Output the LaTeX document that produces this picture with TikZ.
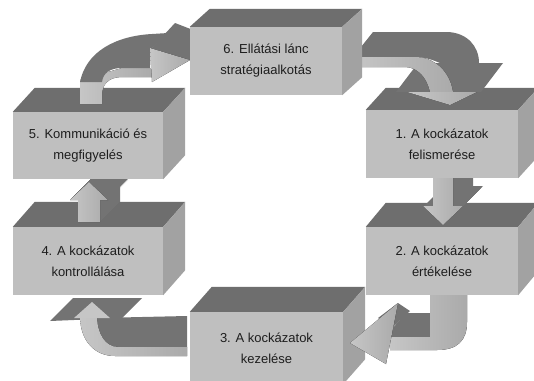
\documentclass[tikz,border=0pt]{standalone}
\usepackage{fontspec}
\setmainfont{Liberation Sans}
\definecolor{bfront}{HTML}{BFBFBF}
\definecolor{btop}{HTML}{6E6E6E}
\definecolor{bside}{HTML}{A2A2A2}
\definecolor{alightc}{HTML}{C6C6C6}
\definecolor{alightd}{HTML}{AAAAAA}
\definecolor{adarkc}{HTML}{737373}
\definecolor{txtc}{HTML}{1E1E1E}
\tikzset{
  stepbox/.style={fill=bfront, inner sep=0pt, align=center, text=txtc,
    font=\fontsize{13}{21}\selectfont},
  arrdark/.style={fill=adarkc},
  arrlight/.style={fill=alightc},
  arrshade/.style={left color=alightc, right color=alightd},
  arrshadev/.style={top color=alightc, bottom color=alightd},
}
\newcommand\drawcube[3]{%
  \fill[btop] (#1.north west) -- (#1.north east) -- ++(#2,#3) -- ([shift={(#2,#3)}]#1.north west) -- cycle;
  \fill[bside] (#1.north east) -- ++(#2,#3) -- ([shift={(#2,#3)}]#1.south east) -- (#1.south east) -- cycle;
}
\begin{document}
\begin{tikzpicture}[x=1pt,y=-1pt]
\useasboundingbox (0,0) rectangle (534,380);
\clip (0,0) rectangle (534,380);
\fill[white] (0,0) rectangle (534,380);

% arrow 3 -> 4
\fill[arrdark] (50,321) -- (73,298) -- (142,298) -- (122,318) -- cycle;
\fill[arrdark] (187,316) -- (187,347) -- (118,347) .. controls (105,347) and (97,333) .. (97,318) -- cycle;
\fill[arrshade] (187,347) -- (187,356) -- (115,356) .. controls (94,356) and (80,340) .. (80,316) -- (97,316) .. controls (97,333) and (105,347) .. (118,347) -- cycle;
\fill[arrlight] (74,318) -- (110,318) -- (92,302) -- cycle;

% box 4
\node[stepbox, minimum width=150pt, minimum height=68pt] (b4) at (88,261) {4. A kockázatok\\kontrollálása};
\drawcube{b4}{22}{-25}

% arrow 4 -> 5
\foreach \s in {20,19,...,1}
  \fill[arrdark, shift={(\s,-\s)}] (78,222) -- (100,222) -- (100,200) -- (108,200) -- (89,182) -- (70,200) -- (78,200) -- cycle;
\fill[arrshade] (78,222) -- (100,222) -- (100,200) -- (108,200) -- (89,182) -- (70,200) -- (78,200) -- cycle;

% box 5
\node[stepbox, minimum width=150pt, minimum height=67pt] (b5) at (88,145.5) {5. Kommunikáció és\\megfigyelés};
\drawcube{b5}{22}{-24}

% arrow 5 -> 6
\fill[arrshade] (80,104) -- (80,80) -- (122,68) -- (152,68) -- (152,77) -- (122,77) .. controls (108,77) and (102,85) .. (102,95) -- (102,104) -- cycle;
\fill[arrdark] (80,82) .. controls (86,52) and (115,36) .. (152,34) -- (168,33) -- (150,50) -- (150,68) -- (122,68) .. controls (110,68) and (103,73) .. (102,82) -- cycle;
\fill[arrdark] (150,50) -- (175,23) -- (193,30) -- (190,60) -- cycle;
\fill[arrshade] (150,48) -- (190,60) -- (152,82) -- cycle;

% box 3
\node[stepbox, minimum width=153pt, minimum height=72pt] (b3) at (266.5,348) {3. A kockázatok\\kezelése};
\drawcube{b3}{22}{-25}

% arrow 2 -> 3
\fill[arrdark] (383,338) -- (407,313) -- (432,313) -- (432,338) -- cycle;
\fill[arrshade] (430,292) -- (467,292) -- (467,322) .. controls (467,341) and (457,350) .. (437,350) -- (390,350) -- (390,337) -- (430,337) -- cycle;
\fill[arrdark] (378,318) -- (398,303) -- (410,311) -- (392,328) -- cycle;
\fill[arrshade] (398,303) -- (386,364) -- (350,343) -- cycle;

% box 2
\node[stepbox, minimum width=152pt, minimum height=68pt] (b2) at (442,261) {2. A kockázatok\\értékelése};
\drawcube{b2}{20}{-24}

% arrow 1 -> 2
\foreach \s in {20,19,...,1}
  \fill[arrdark, shift={(\s,-\s)}] (433,172) -- (453,172) -- (453,206) -- (463,206) -- (443,225) -- (423,206) -- (433,206) -- cycle;
\fill[arrshade] (433,172) -- (453,172) -- (453,206) -- (463,206) -- (443,225) -- (423,206) -- (433,206) -- cycle;

% box 1
\node[stepbox, minimum width=152pt, minimum height=68pt] (b1) at (442,144) {1. A kockázatok\\felismerése};
\drawcube{b1}{20}{-22}

% arrow 6 -> 1
\fill[arrdark] (353,57) -- (373,32) -- (448,32) .. controls (467,33) and (479,46) .. (479,63) -- (440,63) .. controls (433,60) and (425,57) .. (415,57) -- cycle;
\fill[arrdark] (418,63) -- (503,63) -- (481,92) -- (396,92) -- cycle;
\fill[arrshade] (353,57) -- (415,57) .. controls (435,57) and (450,72) .. (453,92) -- (430,92) .. controls (427,78) and (418,67) .. (405,67) -- (353,67) -- cycle;
\fill[arrshade] (407,92) -- (477,92) -- (450,105) -- cycle;

% box 6
\node[stepbox, minimum width=152pt, minimum height=68pt] (b6) at (266,61) {6. Ellátási lánc\\stratégiaalkotás};
\drawcube{b6}{20}{-18}
\end{tikzpicture}
\end{document}
